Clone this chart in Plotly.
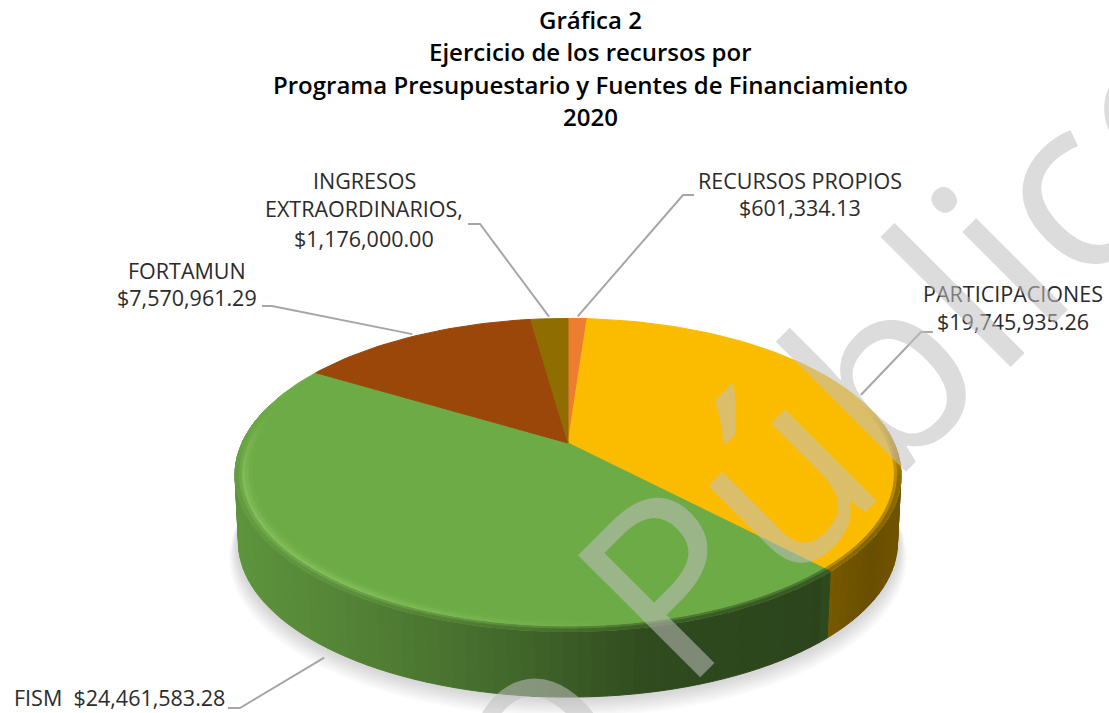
import numpy as np
import plotly.graph_objects as go

categories = ["RECURSOS PROPIOS", "PARTICIPACIONES", "FISM", "FORTAMUN", "INGRESOS EXTRAORDINARIOS"]
values = [601334.13, 19745935.26, 24461583.28, 7570961.29, 1176000.00]
value_labels = ["$601,334.13", "$19,745,935.26", "$24,461,583.28", "$7,570,961.29", "$1,176,000.00"]
colors = ["#ED7D31", "#FBBC00", "#6DAB47", "#9A4709", "#8F6D00"]
title_lines = ["Gráfica 2", "Ejercicio de los recursos por",
               "Programa Presupuestario y Fuentes de Financiamiento", "2020"]
watermark = "Documento Público"

W, H = 1109, 713
CX, CY, A, B, K = 568.0, 443.0, 326.0, 150.0, 0.204
DEPTH = 68.0
FONT = "Open Sans"


def hex_rgb(c):
    return np.array([int(c[i:i + 2], 16) for i in (1, 3, 5)], float)


def rgb(c):
    c = np.clip(c, 0, 255)
    return f"rgb({int(c[0])},{int(c[1])},{int(c[2])})"


def proj(theta, r=1.0, dz=0.0):
    """theta in degrees clockwise from the top of the pie."""
    t = np.radians(theta)
    X, Y = r * np.sin(t), r * np.cos(t)
    d = 1 + K * Y
    return CX + A * X / d, CY - B * Y / d + dz


def wall_factor(sx):
    return np.interp(sx, [235, 400, 500, 650, 825, 828, 870, 900],
                     [.87, .72, .62, .44, .40, .48, .42, .45])


fig = go.Figure()


def poly(xs, ys, fill, line=None):
    fig.add_trace(go.Scatter(x=list(xs), y=list(ys), mode="lines", fill="toself", fillcolor=fill,
                             line=dict(color=line or "rgba(0,0,0,0)", width=1 if line else 0),
                             hoverinfo="skip", showlegend=False))


# soft shadow below the disc
full = np.arange(0, 361, 3.0)
for i in range(9):
    sx, sy = proj(full, 0.992 + 0.003 * i, DEPTH + 1 + 1.6 * i)
    poly(sx, sy, "rgba(90,90,90,0.03)")

total = sum(values)
edges = np.concatenate([[0], np.cumsum(values)]) / total * 360.0
STEP = 2.0

# side wall
for a0, a1, col in zip(edges[:-1], edges[1:], colors):
    base = hex_rgb(col)
    th = np.append(np.arange(a0, a1, STEP), a1)
    for t0, t1 in zip(th[:-1], th[1:]):
        if np.cos(np.radians((t0 + t1) / 2)) > 0.15:
            continue
        x0, y0 = proj(t0)
        x1, y1 = proj(t1)
        x2, y2 = proj(t1, 0.99, DEPTH)
        x3, y3 = proj(t0, 0.99, DEPTH)
        c = rgb(base * wall_factor((x0 + x1) / 2))
        poly([x0, x1, x2, x3, x0], [y0, y1, y2, y3, y0], c, c)

# top faces
for a0, a1, col in zip(edges[:-1], edges[1:], colors):
    th = np.linspace(a0, a1, max(3, int((a1 - a0) / 1.5)))
    sx, sy = proj(th)
    poly(np.r_[CX, sx, CX], np.r_[CY, sy, CY], col, col)

# bevel along the rim
RADII = [0.950, 0.962, 0.972, 0.981, 0.990, 1.0]
for a0, a1, col in zip(edges[:-1], edges[1:], colors):
    base = hex_rgb(col)
    th = np.append(np.arange(a0, a1, STEP), a1)
    for t0, t1 in zip(th[:-1], th[1:]):
        mid = (t0 + t1) / 2
        Y = np.cos(np.radians(mid))
        f = np.clip((0.25 - Y) / 0.5, 0, 1)
        if f <= 0:
            continue
        mx, _ = proj(mid)
        h = np.clip((640 - mx) / 300, 0, 1) * 0.22
        light = base + (np.array([200, 255, 150]) - base) * h
        dark = base * wall_factor(mx)
        stops = [base + (light - base) * .2, base + (light - base) * .6, light,
                 (light + dark) / 2, dark + (light - dark) * .2]
        for j in range(5):
            c = rgb(base + (stops[j] - base) * f)
            x0, y0 = proj(t0, RADII[j])
            x1, y1 = proj(t1, RADII[j])
            x2, y2 = proj(t1, RADII[j + 1])
            x3, y3 = proj(t0, RADII[j + 1])
            poly([x0, x1, x2, x3, x0], [y0, y1, y2, y3, y0], c, c)

# leader lines: label end and elbow in pixels; the slice end comes from the slice mid-angle
leaders = {
    0: [(694, 195), (683, 195)],
    1: [(933, 332), (921, 332)],
    2: [(228, 708), (240, 708)],
    3: [(262, 306), (272, 306)],
    4: [(468, 224), (480, 224)],
}
mids = (edges[:-1] + edges[1:]) / 2
for i, pts in leaders.items():
    depth = DEPTH + 8 if i == 2 else 0
    sx, sy = proj(mids[i], 1.02 if i != 2 else 1.0, depth)
    xs = [p[0] for p in pts] + [float(sx)]
    ys = [p[1] for p in pts] + [float(sy)]
    fig.add_trace(go.Scatter(x=xs, y=ys, mode="lines", line=dict(color="#A6A6A6", width=2),
                             hoverinfo="skip", showlegend=False))

annotations = []


def text(x, y, s, size=21.5, color="#2b2b2b", weight=400, anchor="center", **kw):
    annotations.append(dict(x=x, y=y, xref="x", yref="y", text=s, showarrow=False, xanchor=anchor,
                            yanchor="middle", font=dict(family=FONT, size=size, color=color, weight=weight), **kw))


for y, s in zip([19, 51, 84, 116], title_lines):
    text(590, y, s, size=24, color="#000000", weight=600)

text(800, 180, categories[0])
text(800, 207, value_labels[0])
text(1013, 293, categories[1])
text(1013, 321, value_labels[1])
text(12, 697, "FISM  " + value_labels[2], anchor="left")
text(187, 270, categories[3])
text(187, 297, value_labels[3])
ing = categories[4].split(" ")
text(364, 180, ing[0])
text(364, 208, ing[1] + ",")
text(364, 238, value_labels[4])

# watermark above everything
annotations.append(dict(x=417.5 / W, y=1 - 827 / H, xref="paper", yref="paper", text=watermark, showarrow=False,
                        textangle=-45, xanchor="center", yanchor="middle",
                        font=dict(family=FONT, size=242, weight=500, color="rgba(192,192,192,0.55)")))

fig.update_layout(width=W, height=H, margin=dict(l=0, r=0, t=0, b=0), paper_bgcolor="white",
                  plot_bgcolor="white", showlegend=False, annotations=annotations,
                  xaxis=dict(range=[0, W], visible=False, fixedrange=True),
                  yaxis=dict(range=[H, 0], visible=False, fixedrange=True))
fig.write_html("out.html", config={"displayModeBar": False},
               post_script="document.body.style.margin='0';document.body.style.overflow='hidden';")
